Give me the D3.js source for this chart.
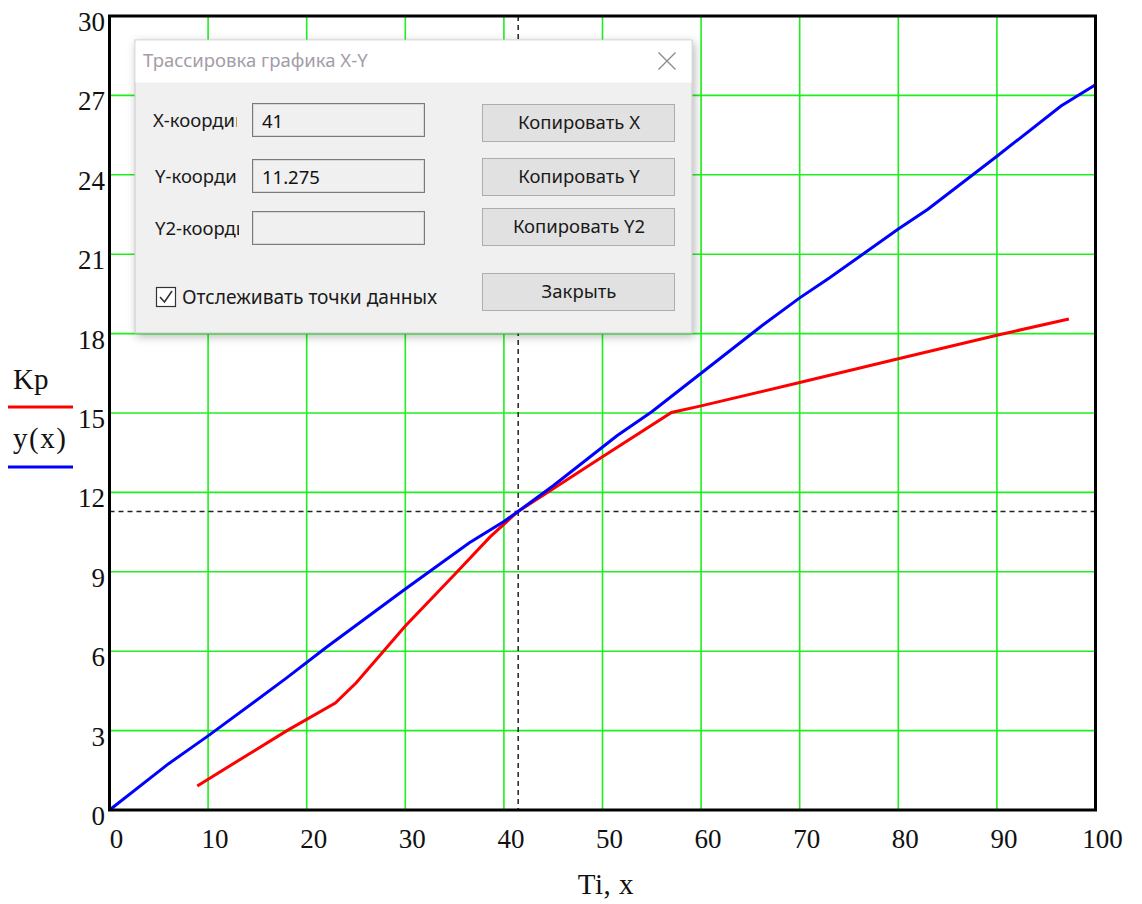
<!DOCTYPE html>
<html>
<head>
<meta charset="utf-8">
<script src="https://cdn.jsdelivr.net/npm/d3@7"></script>
<style>
  html, body { margin: 0; padding: 0; background: #fff; }
  svg { display: block; }
</style>
</head>
<body>
<svg id="chart"></svg>
<script>
// ---- data ----
var xTicks = [0, 10, 20, 30, 40, 50, 60, 70, 80, 90, 100];
var yTicks = [0, 3, 6, 9, 12, 15, 18, 21, 24, 27, 30];

// y(x), blue
var yxX = [0, 6, 10, 18, 22, 30, 36.5, 40, 41.4, 45, 51.5, 55, 60, 66, 70, 73, 80, 83, 90, 96.5, 100];
var yxY = [0, 1.75, 2.8, 5.0, 6.15, 8.35, 10.1, 10.9, 11.27, 12.25, 14.15, 15.05, 16.5, 18.25, 19.35, 20.1, 21.95, 22.7, 24.7, 26.6, 27.4];

// Kp, red
var kpX = [8.9, 18, 22.9, 25, 30, 35, 38.6, 41.4, 50, 57, 60, 70, 80, 90, 97.3];
var kpY = [0.91, 3.0, 4.04, 4.8, 6.95, 8.9, 10.32, 11.27, 13.35, 15.02, 15.27, 16.15, 17.05, 17.94, 18.55];

// trace cursor
var cursorX = 41.45;
var cursorY = 11.275;
var cursorText = ["41", "11.275", ""];

var legendLabels = ["Kp", "y(x)"];
var legendColors = ["#ff0000", "#0000ff"];
var xTitle = "Ti, x";

// labels are cut off by the narrow label column in the original window
var dialogTitle = "Трассировка графика X-Y";
var fieldLabels = ["X-координ", "Y-координ", "Y2-коорди"];
var buttonLabels = ["Копировать X", "Копировать Y", "Копировать Y2", "Закрыть"];
var checkLabel = "Отслеживать точки данных";

// ---- layout ----
var W = 1142, H = 904;
var svg = d3.select("#chart").attr("width", W).attr("height", H);

var x = d3.scaleLinear().domain([0, 100]).range([109.5, 1095.5]);
var y = d3.scaleLinear().domain([0, 30]).range([810, 16]);

var serif = "'Liberation Serif', 'Times New Roman', serif";
var ui = "'Noto Sans', 'Open Sans', sans-serif";

// grid
var grid = svg.append("g").attr("class", "grid");
grid.selectAll("line.gx")
  .data(xTicks.slice(1, -1))
  .enter().append("line")
  .attr("x1", function(d) { return x(d); })
  .attr("x2", function(d) { return x(d); })
  .attr("y1", y(0)).attr("y2", y(30))
  .attr("stroke", "#1ef01e").attr("stroke-width", 1.6);
grid.selectAll("line.gy")
  .data(yTicks.slice(1, -1))
  .enter().append("line")
  .attr("y1", function(d) { return y(d); })
  .attr("y2", function(d) { return y(d); })
  .attr("x1", x(0)).attr("x2", x(100))
  .attr("stroke", "#1ef01e").attr("stroke-width", 1.6);

// cursor crosshair
svg.append("line")
  .attr("x1", x(cursorX)).attr("x2", x(cursorX))
  .attr("y1", y(30)).attr("y2", y(0))
  .attr("stroke", "#222").attr("stroke-width", 1.5)
  .attr("stroke-dasharray", "5,4");
svg.append("line")
  .attr("x1", x(0)).attr("x2", x(100))
  .attr("y1", y(cursorY)).attr("y2", y(cursorY))
  .attr("stroke", "#222").attr("stroke-width", 1.5)
  .attr("stroke-dasharray", "5,4");

// curves
var line = d3.line()
  .x(function(d) { return x(d[0]); })
  .y(function(d) { return y(d[1]); });

svg.append("path")
  .datum(d3.zip(kpX, kpY))
  .attr("d", line)
  .attr("fill", "none")
  .attr("stroke", legendColors[0])
  .attr("stroke-width", 3);

svg.append("path")
  .datum(d3.zip(yxX, yxY))
  .attr("d", line)
  .attr("fill", "none")
  .attr("stroke", legendColors[1])
  .attr("stroke-width", 3);

// frame
svg.append("rect")
  .attr("x", x(0)).attr("y", y(30))
  .attr("width", x(100) - x(0)).attr("height", y(0) - y(30))
  .attr("fill", "none").attr("stroke", "#000").attr("stroke-width", 3);

// tick labels
svg.append("g").selectAll("text")
  .data(xTicks)
  .enter().append("text")
  .attr("x", function(d) { return x(d) + 7; })
  .attr("y", 848)
  .attr("text-anchor", "middle")
  .attr("font-family", serif).attr("font-size", 27)
  .attr("fill", "#111")
  .text(function(d) { return d; });

svg.append("g").selectAll("text")
  .data(yTicks)
  .enter().append("text")
  .attr("x", 105)
  .attr("y", function(d) { return y(d) + 15; })
  .attr("text-anchor", "end")
  .attr("font-family", serif).attr("font-size", 27)
  .attr("fill", "#111")
  .text(function(d) { return d; });

// axis title
svg.append("text")
  .attr("x", 606).attr("y", 894)
  .attr("text-anchor", "middle")
  .attr("font-family", serif).attr("font-size", 29)
  .attr("letter-spacing", 0.5)
  .attr("fill", "#111")
  .text(xTitle);

// legend
var legend = svg.append("g");
legendLabels.forEach(function(lab, i) {
  legend.append("text")
    .attr("x", 13).attr("y", 389 + i * 59)
    .attr("font-family", serif).attr("font-size", 29)
    .attr("letter-spacing", i === 1 ? 1.5 : 0)
    .attr("fill", "#111")
    .text(lab);
  legend.append("line")
    .attr("x1", 8).attr("x2", 73)
    .attr("y1", 407 + i * 60).attr("y2", 407 + i * 60)
    .attr("stroke", legendColors[i]).attr("stroke-width", 3);
});

// ---- trace dialog ----
var defs = svg.append("defs");
var shadow = defs.append("filter").attr("id", "shadow")
  .attr("x", "-10%").attr("y", "-10%").attr("width", "120%").attr("height", "125%");
shadow.append("feDropShadow")
  .attr("dx", 2).attr("dy", 3).attr("stdDeviation", 5)
  .attr("flood-color", "#000").attr("flood-opacity", 0.28);

var dlg = svg.append("g").attr("transform", "translate(135,40)");
var dw = 557, dh = 293;

dlg.append("rect")
  .attr("width", dw).attr("height", dh)
  .attr("fill", "#f0f0f0").attr("stroke", "#c8c8c8").attr("stroke-width", 1)
  .attr("filter", "url(#shadow)");
dlg.append("rect")
  .attr("x", 0.5).attr("y", 0.5)
  .attr("width", dw - 1).attr("height", 42)
  .attr("fill", "#ffffff");
dlg.append("text")
  .attr("x", 8).attr("y", 27)
  .attr("font-family", ui).attr("font-size", 18.5)
  .attr("fill", "#a49ca8")
  .text(dialogTitle);

// close cross
var cx = 532, cy = 21, cs = 8.5;
dlg.append("path")
  .attr("d", "M" + (cx - cs) + "," + (cy - cs) + "L" + (cx + cs) + "," + (cy + cs) +
             "M" + (cx + cs) + "," + (cy - cs) + "L" + (cx - cs) + "," + (cy + cs))
  .attr("stroke", "#8a8a8a").attr("stroke-width", 1.3);

// fields
var rowTop = [63, 119, 171];
var labelClip = [102, 102, 104];
fieldLabels.forEach(function(lab, i) {
  var cid = "clip" + i;
  defs.append("clipPath").attr("id", cid)
    .append("rect").attr("x", 0).attr("y", rowTop[i] - 5)
    .attr("width", labelClip[i]).attr("height", 44);
  dlg.append("text")
    .attr("x", i === 0 ? 18 : 20).attr("y", rowTop[i] + 24)
    .attr("clip-path", "url(#" + cid + ")")
    .attr("font-family", ui).attr("font-size", 18.5)
    .attr("fill", "#1a1a1a")
    .text(lab);
  dlg.append("rect")
    .attr("x", 117.5).attr("y", rowTop[i] + 0.5)
    .attr("width", 172).attr("height", 33)
    .attr("fill", "#f0f0f0").attr("stroke", "#7a7a7a").attr("stroke-width", 1);
  dlg.append("rect")
    .attr("x", 118.5).attr("y", rowTop[i] + 1.5)
    .attr("width", 170).attr("height", 31)
    .attr("fill", "none").attr("stroke", "#d8d8d8").attr("stroke-width", 1);
  dlg.append("text")
    .attr("x", 127).attr("y", rowTop[i] + 25)
    .attr("font-family", ui).attr("font-size", 18.5)
    .attr("fill", "#111")
    .text(cursorText[i]);
});

// buttons
var btnTop = [64, 118, 168, 233];
buttonLabels.forEach(function(lab, i) {
  dlg.append("rect")
    .attr("x", 347.5).attr("y", btnTop[i] + 0.5)
    .attr("width", 192).attr("height", 37)
    .attr("fill", "#e1e1e1").attr("stroke", "#adadad").attr("stroke-width", 1);
  dlg.append("text")
    .attr("x", 444).attr("y", btnTop[i] + 25)
    .attr("text-anchor", "middle")
    .attr("font-family", ui).attr("font-size", 18.5)
    .attr("fill", "#1a1a1a")
    .text(lab);
});

// checkbox
dlg.append("rect")
  .attr("x", 21.5).attr("y", 247.5)
  .attr("width", 19).attr("height", 19)
  .attr("fill", "#fff").attr("stroke", "#333").attr("stroke-width", 1.2);
dlg.append("path")
  .attr("d", "M25,257 L29.5,262 L37,251")
  .attr("fill", "none").attr("stroke", "#333").attr("stroke-width", 1.6);
dlg.append("text")
  .attr("x", 47).attr("y", 264)
  .attr("font-family", ui).attr("font-size", 19.2)
  .attr("fill", "#1a1a1a")
  .text(checkLabel);
</script>
</body>
</html>
